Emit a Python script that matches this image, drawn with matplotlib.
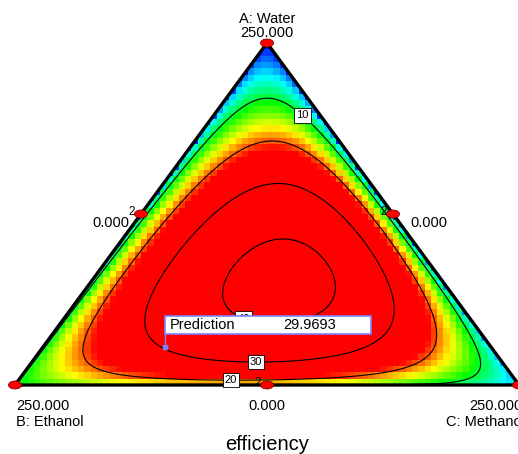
import numpy as np
import matplotlib
matplotlib.use("Agg")
import matplotlib.pyplot as plt
from matplotlib.colors import LinearSegmentedColormap
from matplotlib.patches import Ellipse, Polygon, Rectangle

plt.rcParams["font.family"] = ["Liberation Sans", "DejaVu Sans"]

# mixture components (amounts, total 250)
component_names = ["A: Water", "B: Ethanol", "C: Methanol"]
total_amount = 250.0

# fitted efficiency surface
# edge blend terms: A, B, C, AB, AC, BC
edge_coef = [0.3, 10.0, 4.0, -10.6, -2.6, 24.0]
# interior terms: const, ln A, ln B, ln C, A, B, A^2, B^2, AB
inner_coef = [5.417, 0.640, 0.669, 0.501, 1.945, 0.719, -2.263, -1.052, -3.163]
contour_levels = [10, 20, 30, 40]

# design points (amounts) and replicate counts
design_water = [250, 0, 0, 125, 125, 0]
design_ethanol = [0, 250, 0, 125, 0, 125]
design_methanol = [0, 0, 250, 0, 125, 125]
design_reps = [1, 1, 1, 2, 2, 2]

# flagged prediction point
pred_mix = [27.8, 161.7, 60.5]
pred_value = 29.9693


def efficiency(a, b, c):
    a, b, c = np.ravel(a), np.ravel(b), np.ravel(c)
    e = edge_coef
    edge = e[0] * a + e[1] * b + e[2] * c + e[3] * a * b + e[4] * a * c + e[5] * b * c
    k = inner_coef
    inside = (a > 0) & (b > 0) & (c > 0)
    la = np.log(np.where(inside, a, 1.0))
    lb = np.log(np.where(inside, b, 1.0))
    lc = np.log(np.where(inside, c, 1.0))
    expo = (k[0] + k[1] * la + k[2] * lb + k[3] * lc + k[4] * a + k[5] * b
            + k[6] * a * a + k[7] * b * b + k[8] * a * b)
    return edge + np.where(inside, np.exp(expo), 0.0)


# triangle corners in pixel units
VA = np.array([267.0, 43.0])
VB = np.array([15.0, 385.0])
VC = np.array([519.0, 385.0])


def to_xy(a, b, c):
    a, b, c = np.asarray(a, float), np.asarray(b, float), np.asarray(c, float)
    return a * VA[0] + b * VB[0] + c * VC[0], a * VA[1] + b * VB[1] + c * VC[1]


def to_abc(x, y):
    a = (VB[1] - y) / (VB[1] - VA[1])
    c = (x - VB[0] - (VA[0] - VB[0]) * a) / (VC[0] - VB[0])
    return a, 1 - a - c, c


fig = plt.figure(figsize=(5.18, 4.54), dpi=100)
ax = fig.add_axes([0, 0, 1, 1])
ax.set_xlim(0, 518)
ax.set_ylim(454, 0)
ax.axis("off")

cmap = LinearSegmentedColormap.from_list(
    "design_expert", ["#0000ff", "#00ffff", "#00ff00", "#ffff00", "#ff0000"])

# blocky colour cells
xe = np.linspace(VB[0], VC[0], 81)
ye = np.linspace(VA[1], VB[1], 55)
XX, YY = np.meshgrid(0.5 * (xe[1:] + xe[:-1]), 0.5 * (ye[1:] + ye[:-1]))
ga, gb, gc = [np.clip(v, 0, 1) for v in to_abc(XX, YY)]
s = ga + gb + gc
Z = efficiency(ga / s, gb / s, gc / s).reshape(XX.shape)
mesh = ax.pcolormesh(xe, ye, Z, cmap=cmap, vmin=0, vmax=22, shading="flat")
mesh.set_clip_path(Polygon([VA, VB, VC], closed=True, transform=ax.transData))

# contour lines on a fine simplex grid
n = 200
ia, ib = np.meshgrid(np.arange(n + 1), np.arange(n + 1))
keep = ia + ib <= n
fa = ia[keep] / n
fb = ib[keep] / n
fc = 1 - fa - fb
px, py = to_xy(fa, fb, fc)
cs = ax.tricontour(px, py, efficiency(fa, fb, fc), levels=contour_levels,
                   colors="black", linewidths=0.8)
labels = ax.clabel(cs, fmt="%d", fontsize=8, inline=False,
                   manual=[(307, 110), (231, 375), (256, 353), (244, 318)])
for t in labels:
    t.set_rotation(0)
    t.set_bbox(dict(boxstyle="square,pad=0.2", fc="white", ec="black", lw=0.6))

ax.plot([VA[0], VB[0], VC[0], VA[0]], [VA[1], VB[1], VC[1], VA[1]],
        color="black", lw=2.4, clip_on=False)

# design points
dx, dy = to_xy(np.array(design_water) / total_amount,
               np.array(design_ethanol) / total_amount,
               np.array(design_methanol) / total_amount)
for x, y, r in zip(dx, dy, design_reps):
    ax.add_patch(Ellipse((x, y), 13, 8, fc="#ff0000", ec="#800000", lw=0.6,
                         zorder=6, clip_on=False))
    if r > 1:
        ax.text(x - 6, y - 2, str(r), fontsize=8.5, ha="right", va="center", zorder=6)

# vertex and edge labels
fs = 10.5
ax.text(VA[0], 19, component_names[0], fontsize=fs, ha="center", va="center")
ax.text(VA[0], 33, f"{total_amount:.3f}", fontsize=fs, ha="center", va="center")
ax.text(16, 406, f"{total_amount:.3f}", fontsize=fs, ha="left", va="center")
ax.text(16, 422, component_names[1], fontsize=fs, ha="left", va="center")
ax.text(469, 406, f"{total_amount:.3f}", fontsize=fs, ha="left", va="center")
ax.text(446, 422, component_names[2], fontsize=fs, ha="left", va="center")
ax.text(VA[0], 406, f"{0:.3f}", fontsize=fs, ha="center", va="center")
ax.text(129, 223, f"{0:.3f}", fontsize=fs, ha="right", va="center")
ax.text(410, 223, f"{0:.3f}", fontsize=fs, ha="left", va="center")
ax.text(VA[0], 445, "efficiency", fontsize=14.5, ha="center", va="center")

# prediction flag
ppx, ppy = to_xy(*(np.array(pred_mix) / total_amount))
ax.plot([ppx, ppx], [ppy, 334], color="#8080ff", lw=1, zorder=7)
ax.plot([ppx], [ppy], marker="s", ms=3, color="#8080ff", zorder=7)
ax.add_patch(Rectangle((ppx, 316), 206, 18, fc="white", ec="#8080ff", lw=1.2, zorder=7))
ax.text(ppx + 5, 325, "Prediction", fontsize=fs, ha="left", va="center", zorder=8)
ax.text(336, 325, f"{pred_value:.4f}", fontsize=fs, ha="right", va="center", zorder=8)

fig.savefig("out.png", dpi=100)
